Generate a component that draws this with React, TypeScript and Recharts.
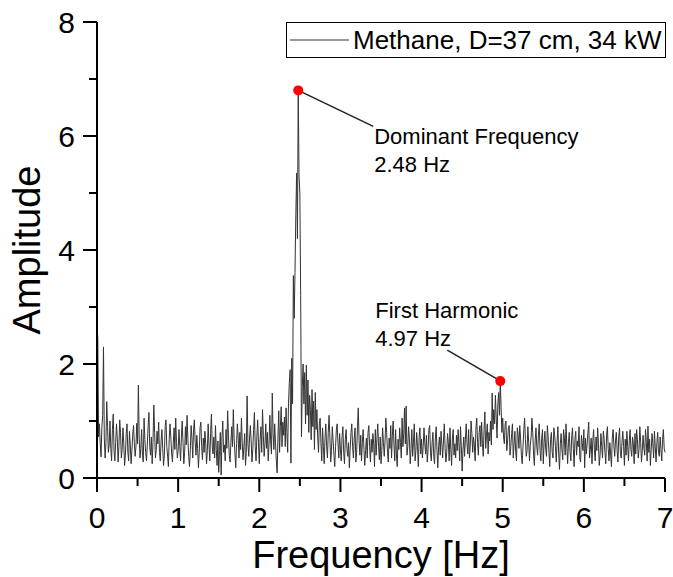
import { LineChart, Line, XAxis, YAxis, ReferenceDot, Legend } from "recharts";

const FONT = "'Liberation Sans', Arial, sans-serif";
const seriesName = "Methane, D=37 cm, 34 kW";

// FFT bin spacing [Hz]; amplitude[i] belongs to frequency i * binStep
const binStep = 0.01;

// amplitude, one row per 0.1 Hz
const amplitude = [
  2.70, 2.45, 0.72, 0.95, 0.60, 0.37, 0.88, 1.10, 2.30, 0.70,
  0.35, 0.62, 1.34, 0.90, 0.45, 0.58, 1.00, 0.52, 0.30, 0.85,
  1.12, 0.48, 0.30, 0.62, 0.95, 0.70, 0.28, 0.55, 1.02, 0.80,
  0.35, 0.50, 0.88, 0.60, 0.22, 0.40, 0.78, 0.95, 0.45, 0.30,
  0.82, 0.58, 0.25, 0.48, 0.75, 0.92, 0.62, 0.38, 0.55, 0.96,
  0.60, 1.63, 0.70, 0.35, 0.52, 0.85, 0.40, 0.28, 1.05, 0.68,
  0.45, 0.30, 0.58, 0.90, 1.15, 0.55, 0.40, 0.72, 0.25, 0.62,
  1.28, 0.80, 0.35, 0.48, 0.82, 0.60, 0.98, 0.45, 0.30, 0.65,
  0.85, 0.52, 0.22, 0.40, 0.90, 1.02, 0.55, 0.38, 0.20, 0.68,
  0.95, 0.72, 0.42, 0.28, 0.60, 0.88, 0.50, 1.05, 0.62, 0.35,
  0.48, 0.85, 0.55, 0.30, 0.72, 1.00, 0.62, 0.25, 0.45, 0.90,
  0.58, 1.10, 0.68, 0.38, 0.20, 0.50, 0.92, 0.70, 0.35, 0.85,
  1.02, 0.62, 0.40, 0.75, 0.52, 0.18, 0.45, 0.88, 0.98, 0.55,
  0.32, 0.70, 0.45, 0.82, 0.60, 0.25, 0.48, 0.95, 0.58, 0.30,
  0.78, 1.12, 0.55, 0.42, 0.72, 0.35, 0.92, 0.50, 0.22, 0.65,
  0.10, 0.48, 0.80, 0.05, 0.70, 1.00, 0.45, 0.58, 0.30, 0.85,
  0.52, 1.18, 0.75, 0.40, 0.28, 0.62, 0.90, 0.55, 1.20, 0.70,
  0.42, 0.18, 0.60, 0.95, 0.70, 0.35, 0.80, 0.50, 1.05, 0.62,
  0.32, 0.55, 0.78, 0.22, 0.45, 1.44, 0.60, 0.38, 0.70, 0.92,
  0.65, 0.28, 0.50, 0.85, 1.15, 0.55, 0.30, 0.72, 1.02, 0.62,
  0.25, 0.68, 0.90, 0.45, 1.20, 0.75, 0.38, 0.60, 0.95, 0.52,
  0.80, 0.30, 0.58, 1.10, 0.65, 0.42, 1.49, 0.78, 0.50, 0.95,
  0.62, 0.30, 0.09, 0.70, 1.18, 0.45, 0.90, 1.25, 0.55, 0.98,
  0.75, 1.07, 0.55, 1.23, 0.80, 0.45, 1.30, 1.66, 1.90, 0.26,
  2.10, 1.30, 3.55, 2.80, 3.60, 4.60, 5.35, 4.20, 6.80, 5.30,
  5.00, 3.20, 0.72, 1.60, 2.00, 1.30, 1.85, 0.95, 1.98, 1.10,
  1.72, 0.80, 1.45, 1.20, 0.67, 1.55, 0.90, 1.35, 0.50, 1.50,
  0.85, 1.20, 0.70, 0.45, 0.95, 1.05, 0.60, 0.30, 0.88, 0.55,
  0.25, 0.70, 0.95, 0.55, 0.35, 0.80, 1.10, 0.72, 0.28, 0.48,
  0.90, 0.65, 0.40, 0.20, 0.55, 0.85, 0.95, 0.60, 0.35, 0.78,
  0.50, 0.30, 0.72, 0.90, 0.45, 0.25, 0.68, 0.85, 0.52, 0.38,
  0.62, 0.18, 0.50, 0.80, 0.95, 0.55, 0.35, 0.70, 0.88, 0.28,
  0.45, 0.90, 1.23, 0.65, 0.40, 0.75, 0.30, 0.62, 0.85, 0.50,
  0.22, 0.48, 0.70, 0.35, 0.80, 0.92, 0.55, 0.28, 0.68, 0.45,
  0.78, 0.60, 0.20, 0.85, 0.40, 0.70, 0.95, 0.55, 0.32, 0.72,
  0.25, 0.48, 0.88, 0.62, 0.38, 0.65, 1.05, 0.80, 0.45, 0.28,
  0.70, 0.52, 0.92, 0.35, 0.75, 1.00, 0.58, 0.30, 0.85, 0.42,
  0.20, 0.68, 0.50, 0.88, 0.62, 0.35, 1.05, 0.55, 0.78, 1.23,
  0.60, 1.26, 0.40, 0.55, 0.90, 0.70, 0.25, 0.52, 0.85, 0.38,
  0.62, 0.95, 0.30, 0.48, 0.80, 0.55, 0.20, 0.72, 0.88, 0.42,
  0.68, 0.35, 0.55, 0.88, 0.60, 0.42, 0.75, 0.28, 0.50, 0.85,
  0.92, 0.45, 0.30, 0.62, 0.80, 0.38, 0.25, 0.70, 0.90, 0.48,
  0.18, 0.55, 0.72, 0.40, 0.82, 0.60, 0.35, 0.65, 0.95, 0.52,
  0.28, 0.45, 0.78, 0.62, 0.30, 0.88, 0.50, 0.22, 0.70, 0.85,
  0.40, 0.60, 0.35, 0.75, 0.48, 0.85, 0.62, 0.30, 0.90, 0.55,
  0.12, 0.50, 0.72, 0.38, 0.68, 0.95, 0.60, 0.42, 0.85, 0.35,
  0.55, 1.00, 0.78, 0.45, 0.72, 0.58, 0.30, 0.88, 1.05, 0.62,
  0.40, 0.80, 0.92, 0.55, 0.98, 0.60, 0.38, 0.85, 1.16, 0.52,
  0.75, 0.95, 0.42, 0.80, 0.65, 1.00, 0.58, 1.49, 0.85, 1.20,
  0.95, 1.45, 1.05, 0.70, 1.30, 1.50, 1.10, 1.70, 1.25, 0.80,
  1.05, 0.72, 0.60, 0.95, 1.00, 0.48, 0.65, 0.88, 0.92, 0.40,
  0.55, 0.78, 0.95, 0.35, 0.60, 0.82, 0.45, 0.30, 0.88, 0.75,
  0.52, 0.92, 0.70, 0.40, 0.25, 0.55, 0.85, 1.05, 0.68, 0.38,
  0.48, 0.90, 0.62, 0.30, 0.58, 0.72, 1.05, 0.80, 0.42, 0.22,
  0.65, 0.88, 0.55, 0.40, 0.75, 0.95, 0.48, 0.30, 0.70, 0.85,
  0.25, 0.62, 0.82, 0.50, 0.38, 0.92, 0.72, 0.45, 0.20, 0.68,
  0.80, 0.45, 0.35, 0.88, 0.75, 0.55, 0.28, 0.65, 0.90, 0.42,
  0.15, 0.60, 0.78, 0.50, 0.32, 0.85, 0.70, 0.40, 0.95, 0.58,
  0.25, 0.62, 0.80, 0.45, 0.30, 0.72, 0.88, 0.52, 0.20, 0.68,
  0.82, 0.40, 0.65, 0.55, 0.90, 0.35, 0.28, 0.75, 0.62, 0.48,
  0.85, 0.18, 0.70, 0.42, 0.58, 0.80, 0.98, 0.35, 0.50, 0.70,
  0.25, 0.65, 0.85, 0.50, 0.30, 0.72, 0.48, 0.88, 0.60, 0.22,
  0.40, 0.78, 0.55, 0.35, 0.82, 0.68, 0.45, 0.25, 0.75, 0.90,
  0.52, 0.30, 0.62, 0.42, 0.20, 0.70, 0.85, 0.58, 0.38, 0.65,
  0.80, 0.48, 0.28, 0.72, 0.88, 0.45, 0.35, 0.62, 0.82, 0.55,
  0.22, 0.68, 0.40, 0.82, 0.55, 0.30, 0.65, 0.85, 0.50, 0.38,
  0.72, 0.60, 0.25, 0.78, 0.42, 0.85, 0.68, 0.35, 0.50, 0.90,
  0.62, 0.28, 0.48, 0.75, 0.52, 0.40, 0.85, 0.62, 0.30, 0.91,
  0.45, 0.68, 0.22, 0.50, 0.78, 0.60, 0.35, 0.82, 0.55, 0.28,
  0.62, 0.80, 0.45, 0.38, 0.72, 0.50, 0.30, 0.68, 0.85, 0.52,
  0.45,
];

const xTicks = [0, 0.5, 1, 1.5, 2, 2.5, 3, 3.5, 4, 4.5, 5, 5.5, 6, 6.5, 7];
const yTicks = [0, 1, 2, 3, 4, 5, 6, 7, 8];

// marked peaks
const peakFreq = [2.48, 4.97];
const peakAmp = [6.8, 1.7];
const peakTitle = ["Dominant Frequency", "First Harmonic"];
const peakNote = ["2.48 Hz", "4.97 Hz"];

const data = amplitude.map((a, i) => ({ f: +(i * binStep).toFixed(2), a }));

const MAJOR = 14;
const MINOR = 8;

function BottomTick({ x, y, payload }: any) {
  const major = Number.isInteger(payload.value);
  return (
    <g>
      <line x1={x} x2={x} y1={y} y2={y + (major ? MAJOR : MINOR)} stroke="#000" strokeWidth={2} />
      {major && (
        <text x={x} y={y + 50} textAnchor="middle" fontSize={30} fontFamily={FONT} fill="#000">
          {payload.value}
        </text>
      )}
    </g>
  );
}

function TopTick({ x, y, payload }: any) {
  const major = Number.isInteger(payload.value);
  return <line x1={x} x2={x} y1={y} y2={y + (major ? MAJOR : MINOR)} stroke="#000" strokeWidth={2} />;
}

function LeftTick({ x, y, payload }: any) {
  const major = payload.value % 2 === 0;
  return (
    <g>
      <line x1={x} x2={x - (major ? MAJOR : MINOR)} y1={y} y2={y} stroke="#000" strokeWidth={2} />
      {major && (
        <text x={x - 22} y={y + 11} textAnchor="end" fontSize={30} fontFamily={FONT} fill="#000">
          {payload.value}
        </text>
      )}
    </g>
  );
}

function RightTick({ x, y, payload }: any) {
  const major = payload.value % 2 === 0;
  return <line x1={x} x2={x - (major ? MAJOR : MINOR)} y1={y} y2={y} stroke="#000" strokeWidth={2} />;
}

function XTitle({ viewBox }: any) {
  return (
    <text x={viewBox.x + viewBox.width / 2} y={568} textAnchor="middle" fontSize={38} fontFamily={FONT} fill="#000">
      Frequency [Hz]
    </text>
  );
}

function YTitle({ viewBox }: any) {
  const cx = 26;
  const cy = viewBox.y + viewBox.height / 2;
  return (
    <text x={cx} y={cy} dy="0.36em" transform={`rotate(-90 ${cx} ${cy})`} textAnchor="middle" fontSize={38} fontFamily={FONT} fill="#000">
      Amplitude
    </text>
  );
}

// leader line + two-line caption placed relative to the dot
const callout = [
  { line: [0, 0, 75, 36], text: [76, 54, 82] },
  { line: [-53, -31, -3, -2], text: [-125, -63, -35] },
];

function PeakMarker({ cx, cy, idx }: any) {
  const c = callout[idx];
  return (
    <g>
      <line x1={cx + c.line[0]} y1={cy + c.line[1]} x2={cx + c.line[2]} y2={cy + c.line[3]} stroke="#222" strokeWidth={1.5} />
      <text x={cx + c.text[0]} y={cy + c.text[1]} fontSize={22} fontFamily={FONT} fill="#000">
        {peakTitle[idx]}
      </text>
      <text x={cx + c.text[0]} y={cy + c.text[2]} fontSize={22} fontFamily={FONT} fill="#000">
        {peakNote[idx]}
      </text>
      <circle cx={cx} cy={cy} r={5} fill="#ff0000" />
    </g>
  );
}

function LegendBox({ payload }: any) {
  const name = payload && payload[0] ? payload[0].value : seriesName;
  return (
    <div
      style={{
        width: 380,
        height: 36,
        boxSizing: "border-box",
        border: "1.5px solid #000",
        background: "#fff",
        display: "flex",
        alignItems: "center",
        fontFamily: FONT,
        fontSize: 26,
        color: "#000",
        whiteSpace: "nowrap",
      }}
    >
      <svg width={66} height={10} style={{ flex: "none" }}>
        <line x1={3} x2={62} y1={5} y2={5} stroke="#333" strokeWidth={1} />
      </svg>
      <span>{name}</span>
    </div>
  );
}

export default function App() {
  return (
    <div style={{ position: "absolute", left: 0, top: 0, background: "#fff" }}>
      <LineChart width={673} height={577} data={data} margin={{ top: 22, right: 8, left: 0, bottom: 0 }}>
        <XAxis
          dataKey="f"
          type="number"
          domain={[0, 7]}
          ticks={xTicks}
          interval={0}
          height={99}
          tickSize={0}
          tickMargin={0}
          tickLine={false}
          axisLine={{ stroke: "#000", strokeWidth: 2 }}
          tick={<BottomTick />}
          label={<XTitle />}
        />
        <XAxis
          xAxisId="top"
          orientation="top"
          dataKey="f"
          type="number"
          domain={[0, 7]}
          ticks={xTicks}
          interval={0}
          height={0}
          tickSize={0}
          tickMargin={0}
          tickLine={false}
          axisLine={{ stroke: "#000", strokeWidth: 2 }}
          tick={<TopTick />}
        />
        <YAxis
          type="number"
          domain={[0, 8]}
          ticks={yTicks}
          interval={0}
          width={97}
          tickSize={0}
          tickMargin={0}
          tickLine={false}
          axisLine={{ stroke: "#000", strokeWidth: 2 }}
          tick={<LeftTick />}
          label={<YTitle />}
        />
        <YAxis
          yAxisId="right"
          orientation="right"
          type="number"
          domain={[0, 8]}
          ticks={yTicks}
          interval={0}
          width={0}
          tickSize={0}
          tickMargin={0}
          tickLine={false}
          axisLine={{ stroke: "#000", strokeWidth: 2 }}
          tick={<RightTick />}
        />
        <Legend
          layout="vertical"
          align="center"
          verticalAlign="middle"
          wrapperStyle={{ left: 286, top: 22, width: 380, height: 36 }}
          content={<LegendBox />}
        />
        <Line
          name={seriesName}
          dataKey="a"
          type="linear"
          stroke="#333"
          strokeWidth={1}
          dot={false}
          activeDot={false}
          isAnimationActive={false}
        />
        <Line
          xAxisId="top"
          yAxisId="right"
          dataKey="a"
          stroke="none"
          dot={false}
          activeDot={false}
          legendType="none"
          isAnimationActive={false}
        />
        {peakFreq.map((f, i) => (
          <ReferenceDot
            key={f}
            x={f}
            y={peakAmp[i]}
            r={5}
            shape={(p: any) => <PeakMarker {...p} idx={i} />}
          />
        ))}
      </LineChart>
    </div>
  );
}
